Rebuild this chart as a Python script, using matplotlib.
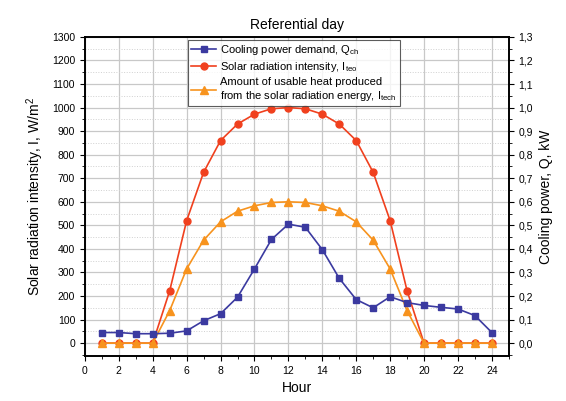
import matplotlib.pyplot as plt
from matplotlib.ticker import MultipleLocator, FuncFormatter

hours = list(range(1, 25))
cooling = [45, 45, 40, 40, 42, 52, 95, 125, 195, 315, 440, 505,
           492, 397, 275, 185, 150, 197, 172, 160, 152, 145, 117, 45]
solar = [0, 0, 0, 0, 222, 520, 725, 860, 930, 972, 995, 1000,
         995, 972, 930, 860, 725, 520, 222, 0, 0, 0, 0, 0]
usable = [0, 0, 0, 0, 138, 315, 437, 515, 560, 583, 597, 600,
          597, 583, 560, 515, 437, 315, 138, 0, 0, 0, 0, 0]

blue = "#3b3aa0"
red = "#f0401e"
orange = "#f7931e"

plt.rcParams['font.family'] = ['Liberation Sans', 'DejaVu Sans']
plt.rcParams['mathtext.default'] = 'regular'

fig = plt.figure(figsize=(5.66, 4.01), dpi=100)
ax = fig.add_axes([0.150, 0.112, 0.749, 0.796])

l1, = ax.plot(hours, cooling, color=blue, marker='s', ms=5, lw=1.2,
              label="Cooling power demand, Q$_{ch}$", zorder=5)
l2, = ax.plot(hours, solar, color=red, marker='o', ms=5, lw=1.2,
              label="Solar radiation intensity, I$_{teo}$", zorder=3)
l3, = ax.plot(hours, usable, color=orange, marker='^', ms=5.5, lw=1.2,
              label="Amount of usable heat produced\nfrom the solar radiation energy, I$_{tech}$",
              zorder=4)

ax.set_xlim(0, 25)
ax.set_ylim(-55, 1300)
ax.xaxis.set_major_locator(MultipleLocator(2))
ax.xaxis.set_minor_locator(MultipleLocator(1))
ax.yaxis.set_major_locator(MultipleLocator(100))
ax.yaxis.set_minor_locator(MultipleLocator(50))
ax.grid(True, which='major', color='#c8c8c8', lw=0.9)
ax.grid(True, which='minor', axis='y', color='#d0d0d0', lw=0.7, ls=':')
ax.tick_params(labelsize=7.5, direction='out')
ax.tick_params(which='minor', length=2)
ax.set_xlabel("Hour", fontsize=10)
ax.set_ylabel("Solar radiation intensity, I, W/m$^2$", fontsize=10)
ax.set_title("Referential day", fontsize=10, pad=6)

ax2 = ax.twinx()
ax2.set_ylim(-0.055, 1.3)
ax2.yaxis.set_major_locator(MultipleLocator(0.1))
ax2.yaxis.set_minor_locator(MultipleLocator(0.05))
ax2.yaxis.set_major_formatter(FuncFormatter(lambda v, p: f"{v:.1f}".replace('.', ',')))
ax2.tick_params(labelsize=7.5, direction='out')
ax2.tick_params(which='minor', length=2)
ax2.set_ylabel("Cooling power, Q, kW", fontsize=10)

for a in (ax, ax2):
    for s in a.spines.values():
        s.set_linewidth(1.2)

leg = ax.legend(handles=[l1, l2, l3], loc='upper left', bbox_to_anchor=(0.23, 1.008),
                fontsize=8, frameon=True, fancybox=False, edgecolor='#333333',
                handlelength=2.2, borderpad=0.3, labelspacing=0.25, handletextpad=0.4)
leg.get_frame().set_linewidth(0.8)
leg.set_zorder(10)

fig.savefig("out.png", dpi=100)
